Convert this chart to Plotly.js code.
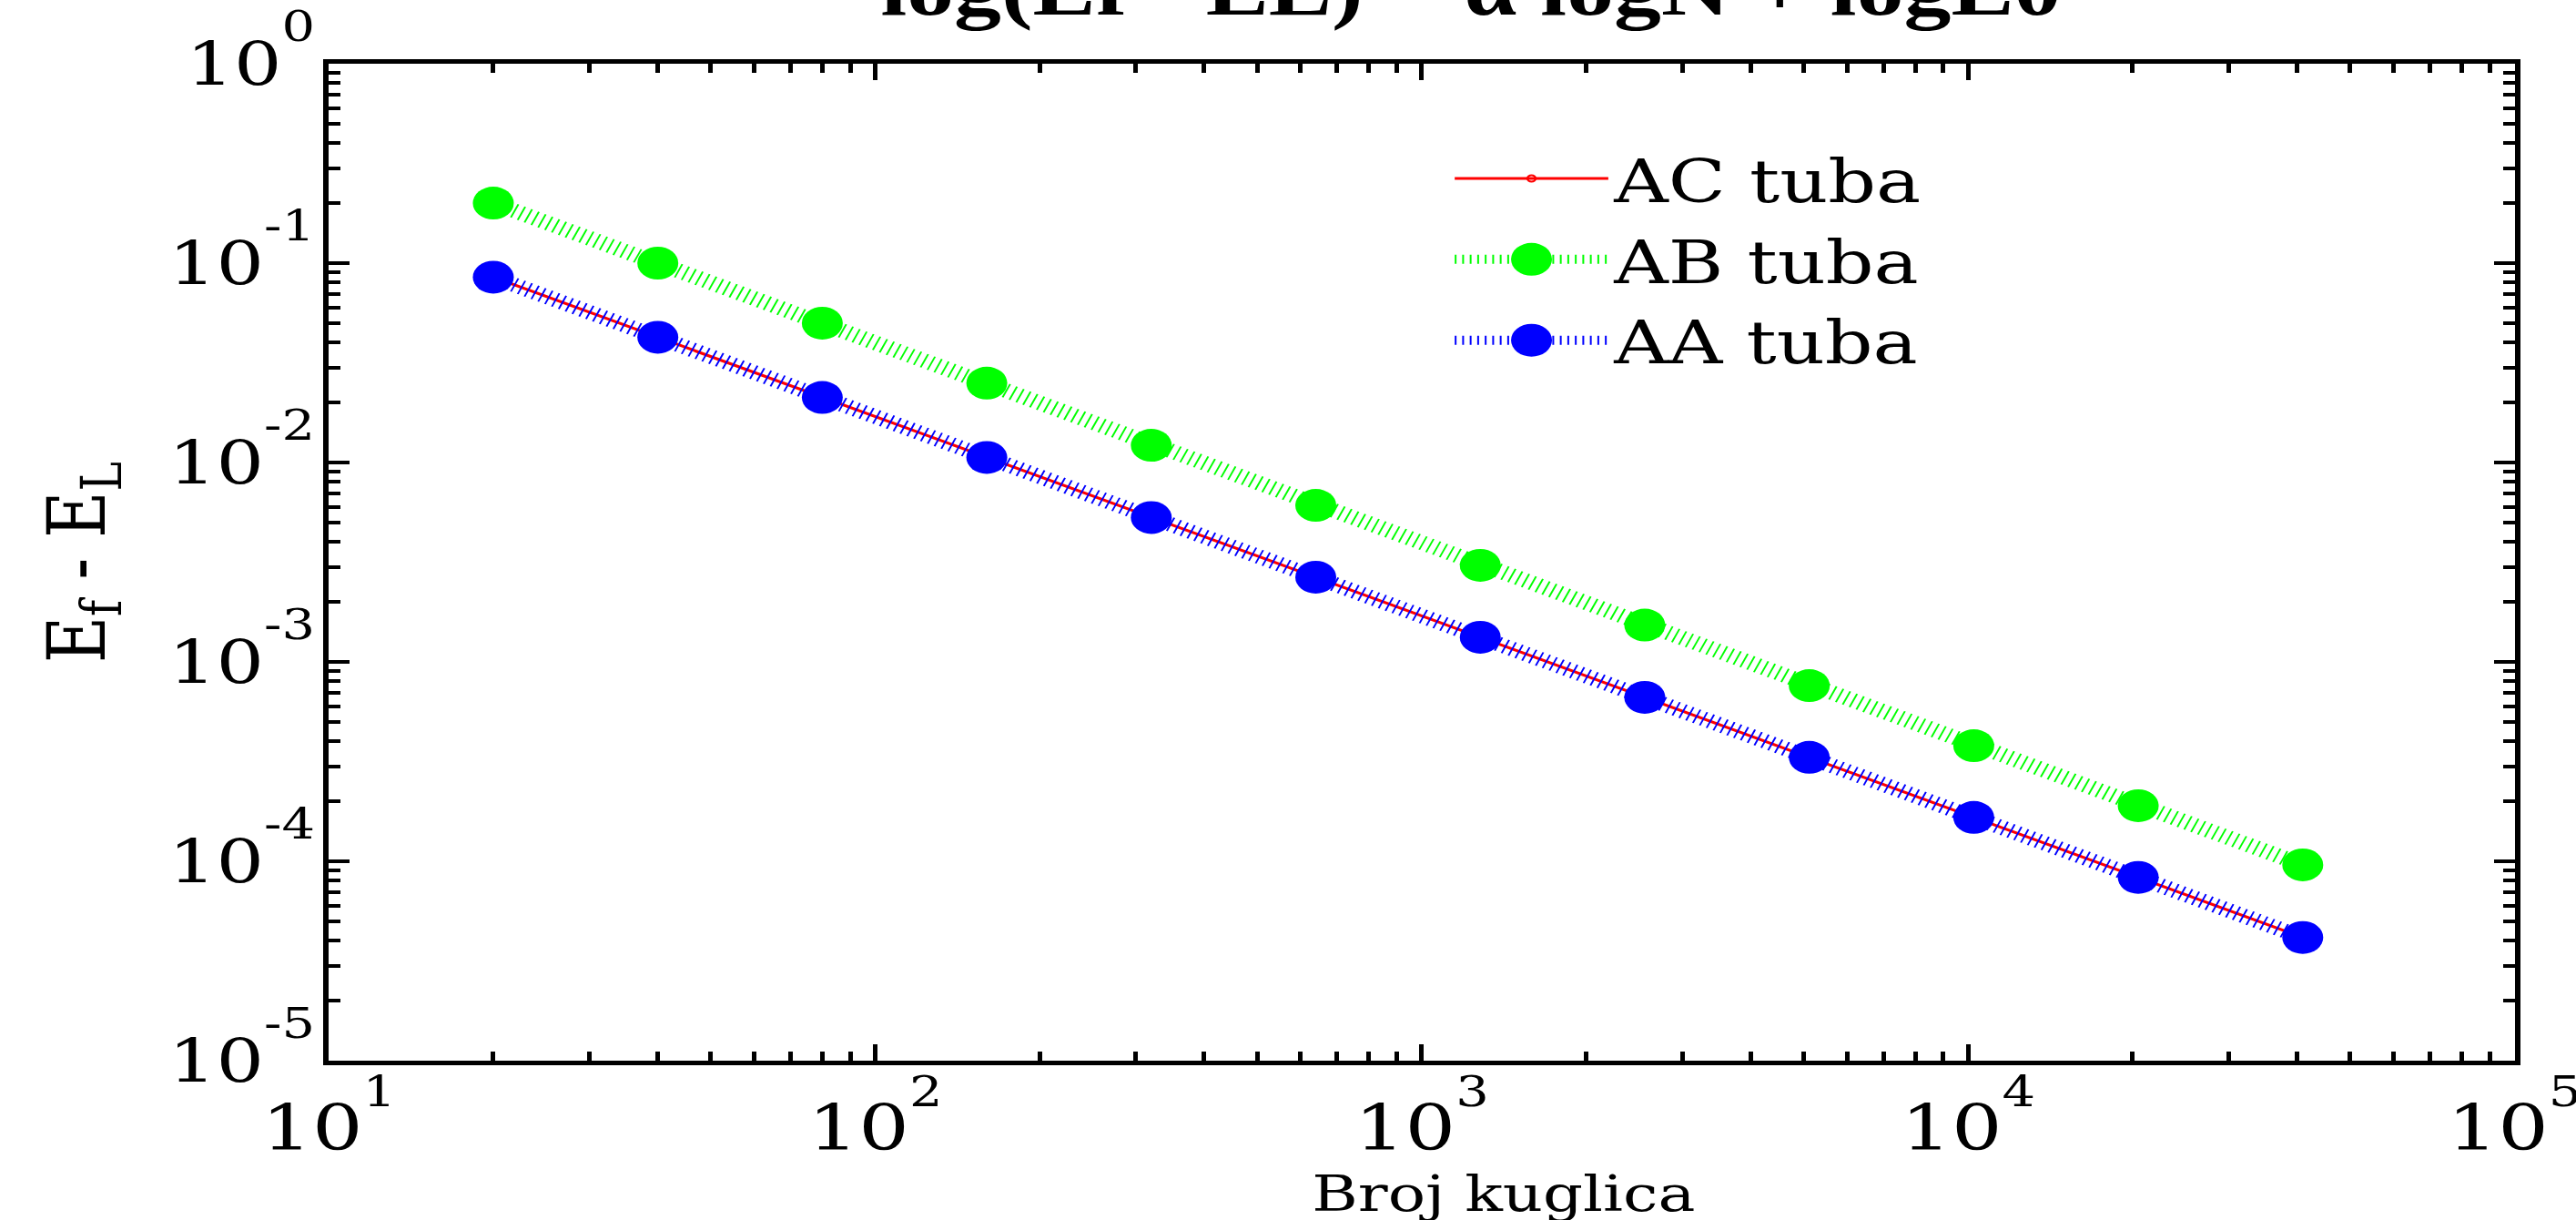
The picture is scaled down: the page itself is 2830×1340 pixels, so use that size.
<!DOCTYPE html>
<html><head><meta charset="utf-8">
<script src="https://cdn.plot.ly/plotly-3.0.1.min.js"></script>
<style>
html,body{margin:0;padding:0;background:#fff;overflow:hidden}
#wrap{width:2830px;height:1340px;overflow:hidden}
#plot{width:2264px;height:1340px;transform:scaleX(1.25);transform-origin:0 0}
</style>
</head><body><div id="wrap"><div id="plot"></div></div>
<script>
// ---- data ----
const brojKuglica = [20, 40, 80, 160, 320, 640, 1280, 2560, 5120, 10240, 20480, 40960];
const acTuba = [0.085, 0.0425, 0.0212, 0.0106, 0.0053, 0.00266, 0.00133, 0.000664, 0.000332, 0.000166, 0.000083, 0.0000415];
const abTuba = [0.2, 0.1, 0.05, 0.025, 0.0122, 0.0061, 0.00305, 0.00153, 0.00076, 0.00038, 0.00019, 0.000096];
const aaTuba = [0.085, 0.0425, 0.0212, 0.0106, 0.0053, 0.00266, 0.00133, 0.000664, 0.000332, 0.000166, 0.000083, 0.0000415];
const seriesNames = ['AC tuba', 'AB tuba', 'AA tuba'];
const xTickVals = [10, 100, 1000, 10000, 100000];
const xTickExp = ['1', '2', '3', '4', '5'];
const yTickVals = [1, 0.1, 0.01, 0.001, 0.0001, 0.00001];
const yTickExp = ['0', '-1', '-2', '-3', '-4', '-5'];
const titleText = 'log(Ef - EL) = α logN + logE0';
const xTitle = 'Broj kuglica';
const yTitle = 'E<sub>f</sub> - E<sub>L</sub>';

const SERIF = 'DejaVu Serif';
const supLabel = (e) => '10<span style="font-size:46px;baseline-shift:48px">' + e + '</span>';

const hatch = '1.6px,5px';
const traces = [
  {x: brojKuglica, y: acTuba, name: seriesNames[0], type: 'scatter', mode: 'lines+markers',
   line: {color: '#ff0000', width: 3},
   marker: {symbol: 'circle-open', size: 7, color: '#ff0000', line: {width: 2, color: '#ff0000'}}},
  {x: brojKuglica, y: abTuba, name: seriesNames[1], type: 'scatter', mode: 'lines+markers',
   line: {color: '#00ff00', width: 16, dash: hatch},
   marker: {symbol: 'circle', size: 36, color: '#00ff00', line: {width: 0}}},
  {x: brojKuglica, y: aaTuba, name: seriesNames[2], type: 'scatter', mode: 'lines+markers',
   line: {color: '#0000ff', width: 16, dash: hatch},
   marker: {symbol: 'circle', size: 36, color: '#0000ff', line: {width: 0}}}
];

const axisCommon = {
  type: 'log', showline: true, linecolor: '#000', linewidth: 5, mirror: 'allticks',
  ticks: 'inside', ticklen: 18, tickwidth: 4, tickcolor: '#000',
  showgrid: false, zeroline: false, tickmode: 'array', ticklabeloverflow: 'allow',
  minor: {ticks: 'inside', ticklen: 10, tickwidth: 4, tickcolor: '#000', dtick: 'D1', showgrid: false}
};

const layout = {
  width: 2264, height: 1340,
  margin: {l: 289, r: 54, t: 70, b: 175},
  paper_bgcolor: '#fff', plot_bgcolor: '#fff',
  showlegend: true, hovermode: false,
  title: {text: titleText, font: {family: 'Liberation Serif', size: 83, weight: 'bold', color: '#000'},
          x: 0.571, xref: 'container', xanchor: 'center',
          y: 1 - 16 / 1340, yref: 'container', yanchor: 'bottom'},
  xaxis: Object.assign({}, axisCommon, {
    range: [1, 5.000001], tickvals: xTickVals, ticktext: xTickExp.map(supLabel),
    tickfont: {family: SERIF, size: 70, color: '#000'},
    ticklabelstandoff: 9
  }),
  yaxis: Object.assign({}, axisCommon, {
    range: [-5.000001, 0.000001], tickvals: yTickVals, ticktext: yTickExp.map(supLabel),
    tickfont: {family: SERIF, size: 66, color: '#000'},
    ticklabelstandoff: -6,
    title: {text: yTitle, font: {family: SERIF, size: 70, color: '#000'}, standoff: 34}
  }),
  annotations: [{
    text: xTitle, xref: 'paper', yref: 'paper', x: 0.5377, y: -0.1335,
    xanchor: 'center', yanchor: 'middle', showarrow: false,
    font: {family: SERIF, size: 55, color: '#000'}
  }],
  legend: {x: 0.5125, y: 0.93, xanchor: 'left', yanchor: 'top', bgcolor: 'rgba(0,0,0,0)',
           borderwidth: 0, itemwidth: 135, font: {family: SERIF, size: 66, color: '#000'}}
};

Plotly.newPlot('plot', traces, layout, {displayModeBar: false, staticPlot: true}).then(function (gd) {
  // enlarge the legend symbols of the filled-circle series to their plotted size
  const items = gd.querySelectorAll('.legend .traces');
  items.forEach(function (it, i) {
    if (i === 0) return;
    it.querySelectorAll('.legendpoints path.scatterpts').forEach(function (p) {
      const r = 18;
      p.setAttribute('d', 'M' + r + ',0A' + r + ',' + r + ' 0 1,1 0,-' + r + 'A' + r + ',' + r + ' 0 0,1 ' + r + ',0Z');
    });
  });
});
</script>
</body></html>
